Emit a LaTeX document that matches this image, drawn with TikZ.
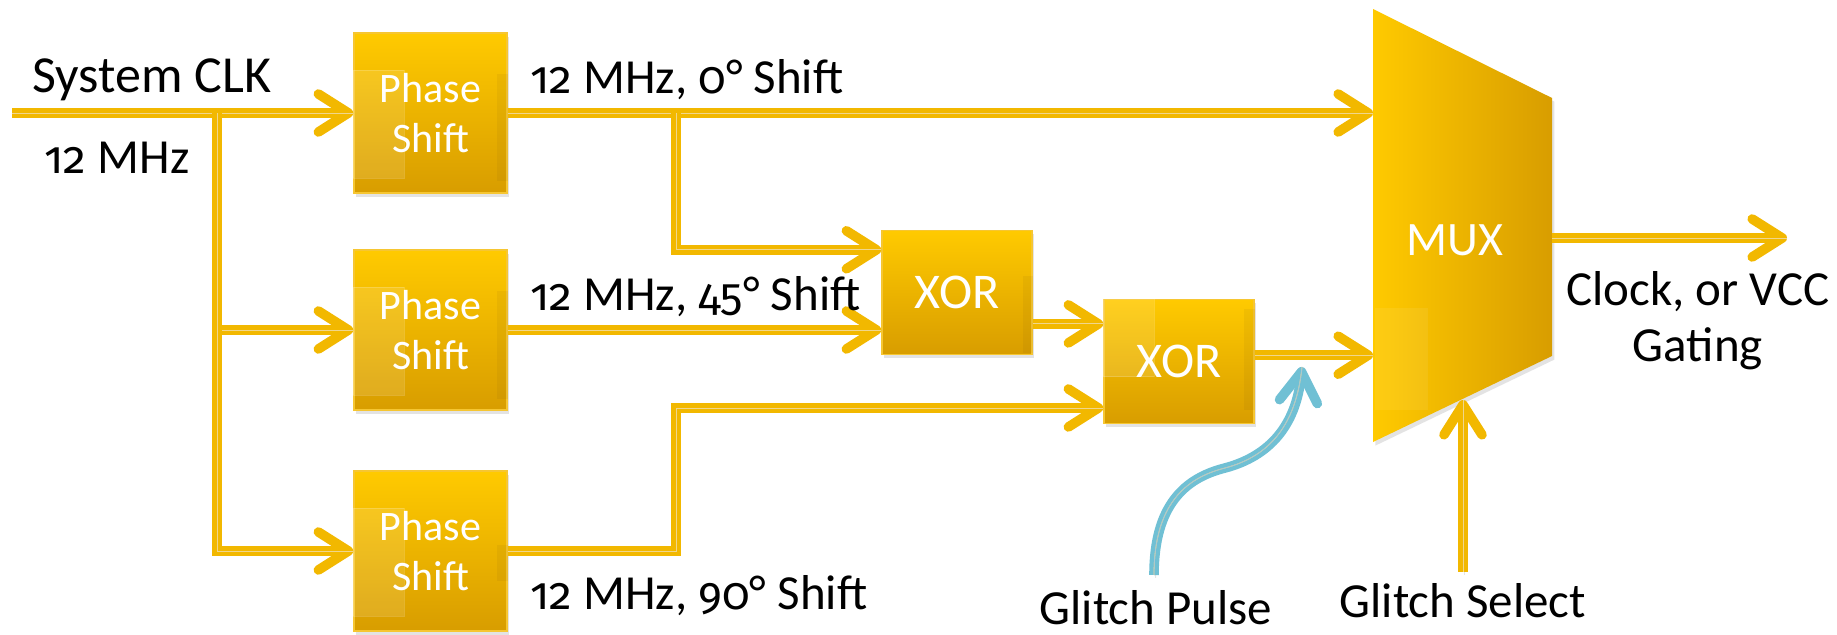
\documentclass[tikz,border=0pt]{standalone}
\usepackage{fontspec}
\setmainfont{Carlito}
\newfontfamily\oldfig{Fira Sans}[Numbers=OldStyle,Scale=0.93]
\newcommand{\fig}[1]{{\oldfig #1}}
\usetikzlibrary{arrows.meta,shadows,calc}

\definecolor{boxtop}{RGB}{255,202,0}
\definecolor{boxbot}{RGB}{216,157,0}
\definecolor{boxrim}{RGB}{246,198,50}
\definecolor{wirecol}{RGB}{242,184,0}
\definecolor{wirehl}{RGB}{240,214,140}
\definecolor{pulsecol}{RGB}{112,192,212}
\definecolor{pulsehl}{RGB}{170,200,210}

\begin{document}
\begin{tikzpicture}[x=0.5pt,y=-0.5pt,
  blockbox/.style={draw=boxrim, line width=0.8pt, top color=boxtop, bottom color=boxbot,
    text=white, inner sep=0pt,
    drop shadow={shadow xshift=1.2pt,shadow yshift=-1.8pt,opacity=0.22}},
  phasebox/.style={blockbox, minimum width=76.5pt, minimum height=80pt, align=center,
    font=\fontsize{21pt}{25pt}\selectfont},
  xorbox/.style={blockbox, minimum width=75pt, minimum height=62pt},
  patch/.style={fill=white, fill opacity=0.12, draw=white, draw opacity=0.18, line width=0.4pt},
  softpatch/.style={fill=white, fill opacity=0.07},
  strip/.style={fill=black!60!brown, fill opacity=0.06},
  wire/.style={draw=wirecol, line width=4.8pt,
    -{Straight Barb[length=15pt,width=19pt,round]},
    preaction={draw=black, draw opacity=0.10, transform canvas={xshift=0.8pt,yshift=-1.4pt}},
    postaction={draw=wirehl, line width=0.4pt, -}},
  pulsewire/.style={wire, draw=pulsecol, postaction={draw=pulsehl, line width=0.4pt, -}},
  caption/.style={text=white, font=\fontsize{25pt}{30pt}\selectfont},
  lbl/.style={font=\fontsize{24.5pt}{28pt}\selectfont, text=black, inner sep=0pt}
]
\useasboundingbox (0,0) rectangle (1837,635);
\fill[white] (0,0) rectangle (1837,635);

% processing blocks
\node[phasebox] (ps1) at (430.5,113) {Phase\\Shift};
\node[phasebox] (ps2) at (430.5,330) {Phase\\Shift};
\node[phasebox] (ps3) at (430.5,551) {Phase\\Shift};
\node[xorbox] (xor1) at (957,292.5) {};
\node[xorbox] (xor2) at (1179,361.5) {};

% multiplexer trapezoid
\coordinate (m1) at (1373,9);
\coordinate (m2) at (1552,98);
\coordinate (m3) at (1552,356);
\coordinate (m4) at (1373,442);
\path[left color=boxtop, right color=boxbot,
  drop shadow={shadow xshift=1.2pt,shadow yshift=-1.8pt,opacity=0.22}]
  (m1) -- (m2) -- (m3) -- (m4) -- cycle;

% faint lighter and darker panes inside the blocks
\foreach \b in {ps1,ps2,ps3}{
  \path[patch] ($(\b.north west)+(0,38)$) rectangle ($(\b.north west)+(51,146)$);
}
\path[strip] ($(ps1.north east)+(-11,42)$) rectangle ($(ps1.north east)+(0,149)$);
\path[strip] ($(ps2.north east)+(-11,42)$) rectangle ($(ps2.north east)+(0,150)$);
\path[strip] ($(ps3.north east)+(-11,75)$) rectangle ($(ps3.north east)+(0,111)$);
\path[strip] ($(xor1.north east)+(-10,46)$) rectangle ($(xor1.north east)+(0,123)$);
\path[strip] ($(xor2.north east)+(-11,10)$) rectangle ($(xor2.north east)+(0,111)$);
\path[patch] ($(xor2.north west)+(0,0)$) rectangle ($(xor2.north west)+(51,78)$);
\path[softpatch] (1375,308) rectangle (1428,410);

% block captions
\node[caption] (xor1cap) at (xor1) {XOR};
\node[caption] (xor2cap) at (xor2) {XOR};
\node[caption, font=\fontsize{24pt}{28pt}\selectfont] (mux) at (1455,240) {MUX};

% connection points
\coordinate (clkin) at (12,113);
\coordinate (split) at (217,113);
\coordinate (tap) at (676,113);
\coordinate (x1a) at ($(xor1.south west)!0.84!(xor1.north west)$);
\coordinate (x1o) at ($(xor1.south east)!0.25!(xor1.north east)$);
\coordinate (x2b) at ($(xor2.south west)!0.13!(xor2.north west)$);
\coordinate (x2o) at ($(xor2.south east)!0.55!(xor2.north east)$);
\coordinate (muxout) at (1552,238);
\coordinate (clkout) at (1787,238);
\coordinate (muxsel) at (1463,400);
\coordinate (selsrc) at (1463,572);
\coordinate (pulsesrc) at (1154,575);
\coordinate (pulsetip) at (1302,367);

% clock distribution
\draw[wire] (clkin) -- (ps1.west);
\draw[wire] (split) |- (ps2.west);
\draw[wire] (split) |- (ps3.west);
\draw[wire] (ps1.east) -- (ps1.east -| m1);
\draw[wire] (tap) |- (x1a);
\draw[wire] (ps2.east) -- (ps2.east -| xor1.west);
\draw[wire] (x1o) -- (x1o -| xor2.west);
\draw[wire] (ps3.east) -| (tap |- x2b) -- (x2b);
\draw[wire] (x2o) -- (x2o -| m1);
\draw[wire] (muxout) -- (clkout);
\draw[wire] (selsrc) -- (muxsel);
\draw[pulsewire] (pulsesrc) .. controls (1154,505) and (1185,478) .. (1225,468)
  .. controls (1270,456) and (1296,425) .. (pulsetip);

% labels
\node[lbl, font=\fontsize{26pt}{30pt}\selectfont] (sysclk) at (152,80) {System CLK};
\node[lbl] (fin) at (117,158) {\fig{12} MHz};
\node[lbl,anchor=west] (l0) at (530,80) {\fig{12} MHz, \fig{0}° Shift};
\node[lbl,anchor=west] (l45) at (530,297) {\fig{12} MHz, \fig{45}° Shift};
\node[lbl,anchor=west] (l90) at (530,596) {\fig{12} MHz, \fig{90}° Shift};
\node[lbl,align=center] (gate) at (1698,321) {Clock, or VCC\\Gating};
\node[lbl] (gp) at (1156,608) {Glitch Pulse};
\node[lbl] (gs) at (1463,601) {Glitch Select};
\end{tikzpicture}
\end{document}
